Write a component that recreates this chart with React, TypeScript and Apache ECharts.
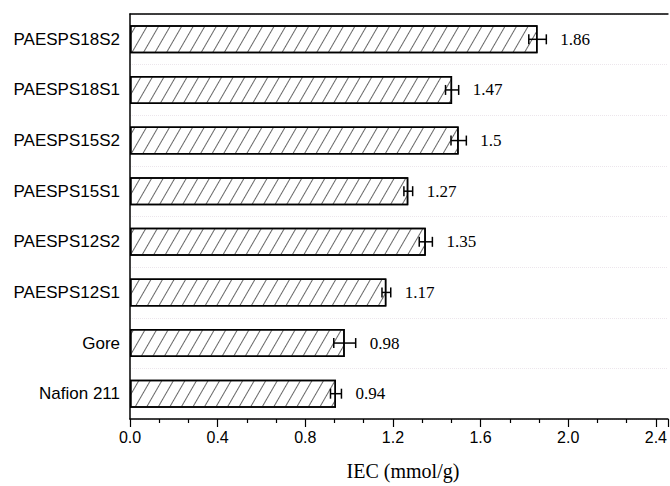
import React, { useEffect, useRef } from "react";
import * as echarts from "echarts";

// bottom-to-top order (ECharts category y-axis starts at the bottom)
const categories = ["Nafion 211", "Gore", "PAESPS12S1", "PAESPS12S2", "PAESPS15S1", "PAESPS15S2", "PAESPS18S1", "PAESPS18S2"];
const iecValues = [0.94, 0.98, 1.17, 1.35, 1.27, 1.5, 1.47, 1.86];
const iecErrors = [0.025, 0.05, 0.02, 0.03, 0.02, 0.035, 0.03, 0.04];
const valueLabels = ["0.94", "0.98", "1.17", "1.35", "1.27", "1.5", "1.47", "1.86"];
const xTicks = [0, 0.4, 0.8, 1.2, 1.6, 2.0, 2.4];

export default function App() {
  const ref = useRef<HTMLDivElement>(null);
  useEffect(() => {
    if (!ref.current) return;
    const chart = echarts.init(ref.current, null, { renderer: "svg" });
    const errData = iecValues.map((v, i) => [v, i, iecErrors[i], valueLabels[i]]);
    chart.setOption({
      animation: false,
      backgroundColor: "#ffffff",
      grid: { left: 130, top: 14, right: 0, height: 409 },
      xAxis: [
        {
          type: "value",
          min: 0,
          max: 2.455,
          interval: 0.4,
          position: "bottom",
          axisLine: { show: true, lineStyle: { color: "#000", width: 1.5 } },
          axisTick: { show: true, length: 8, inside: false, lineStyle: { color: "#000", width: 1.2 } },
          minorTick: { show: true, splitNumber: 3, length: 4, lineStyle: { color: "#000", width: 1.2 } },
          axisLabel: {
            color: "#000",
            fontFamily: "Liberation Sans",
            fontSize: 16,
            margin: 10,
            showMaxLabel: false,
            formatter: (v: number) => (xTicks.some((t) => Math.abs(t - v) < 1e-6) ? v.toFixed(1) : ""),
          },
          splitLine: { show: false },
          name: "IEC (mmol/g)",
          nameLocation: "middle",
          nameGap: 42,
          nameTextStyle: { color: "#000", fontFamily: "Liberation Serif", fontSize: 20, padding: [0, 0, 0, 8] },
        },
        {
          type: "value",
          min: 0,
          max: 2.455,
          position: "top",
          axisLine: { show: true, lineStyle: { color: "#000", width: 1.5 } },
          axisTick: { show: false },
          axisLabel: { show: false },
          splitLine: { show: false },
        },
      ],
      yAxis: {
        type: "category",
        data: categories,
        axisLine: { show: true, lineStyle: { color: "#000", width: 1.5 } },
        axisTick: { show: false },
        axisLabel: { color: "#000", fontFamily: "Liberation Sans", fontSize: 17, margin: 10 },
        splitLine: { show: true, lineStyle: { color: "#ece6ec", type: "dotted", width: 1 } },
      },
      series: [
        {
          type: "bar",
          data: iecValues,
          barWidth: 28,
          itemStyle: {
            color: "#ffffff",
            borderColor: "#000",
            borderWidth: 1.5,
            decal: {
              symbol: "rect",
              symbolSize: 1,
              color: "rgba(40,40,40,0.7)",
              dashArrayX: [1, 0],
              dashArrayY: [1, 8.5],
              rotation: -Math.PI / 3,
            },
          },
        },
        {
          type: "custom",
          data: errData,
          encode: { x: 0, y: 1 },
          z: 10,
          renderItem: (params: any, api: any) => {
            const v = api.value(0);
            const idx = api.value(1);
            const e = api.value(2);
            const lbl = valueLabels[params.dataIndex];
            const lo = api.coord([v - e, idx]);
            const hi = api.coord([v + e, idx]);
            const cap = 5;
            const st = { stroke: "#000", lineWidth: 1.5 };
            return {
              type: "group",
              children: [
                { type: "line", shape: { x1: lo[0], y1: lo[1], x2: hi[0], y2: hi[1] }, style: st },
                { type: "line", shape: { x1: lo[0], y1: lo[1] - cap, x2: lo[0], y2: lo[1] + cap }, style: st },
                { type: "line", shape: { x1: hi[0], y1: hi[1] - cap, x2: hi[0], y2: hi[1] + cap }, style: st },
                {
                  type: "text",
                  x: hi[0] + 14,
                  y: hi[1],
                  style: {
                    text: lbl,
                    fill: "#000",
                    fontFamily: "Liberation Serif",
                    fontSize: 17,
                    verticalAlign: "middle",
                    align: "left",
                  },
                },
              ],
            };
          },
        },
      ],
    });
    return () => chart.dispose();
  }, []);
  return <div ref={ref} style={{ position: "fixed", left: 0, top: 0, width: 670, height: 486 }} />;
}
